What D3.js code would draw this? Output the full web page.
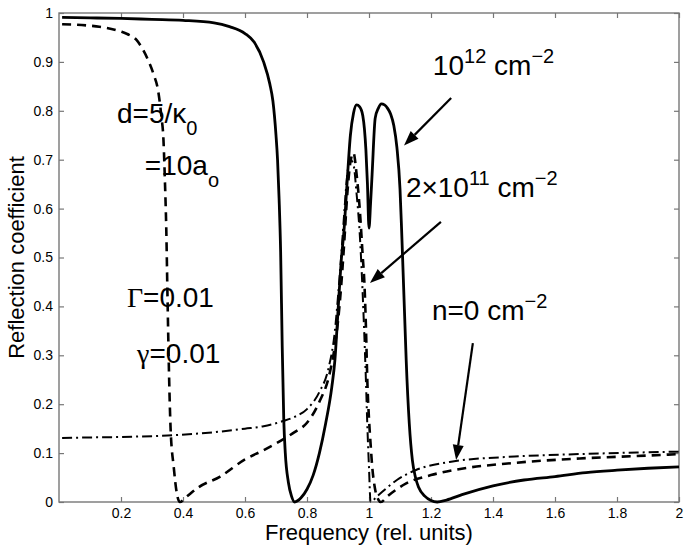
<!DOCTYPE html>
<html>
<head>
<meta charset="utf-8">
<script src="https://cdn.jsdelivr.net/npm/d3@7"></script>
<style>
  body { margin: 0; background: #fff; }
  text { font-family: "Liberation Sans", Arial, Helvetica, sans-serif; }
</style>
</head>
<body>
<svg id="chart"></svg>
<script>
// frequency / reflection
const solidX = [0.01,0.1,0.2,0.3,0.4,0.5,0.55,0.6,0.63,0.66,0.68,0.69,0.70,0.705,0.71,0.715,0.72,0.725,0.73,0.74,0.75,0.76,0.78,0.80,0.82,0.84,0.86,0.88,0.89,0.90,0.91,0.92,0.93,0.94,0.95,0.96,0.97,0.98,0.99,0.995,1.0,1.005,1.01,1.02,1.03,1.04,1.05,1.06,1.07,1.08,1.09,1.10,1.105,1.11,1.115,1.12,1.13,1.14,1.15,1.16,1.18,1.20,1.22,1.25,1.3,1.4,1.5,1.6,1.7,1.8,1.9,2.0];
const solidY = [0.991,0.990,0.989,0.987,0.985,0.980,0.972,0.958,0.940,0.900,0.855,0.820,0.750,0.700,0.620,0.510,0.320,0.170,0.100,0.040,0.012,0.000,0.008,0.026,0.055,0.100,0.160,0.235,0.290,0.390,0.490,0.560,0.660,0.750,0.795,0.812,0.808,0.790,0.720,0.650,0.560,0.610,0.670,0.785,0.805,0.814,0.812,0.805,0.793,0.770,0.725,0.640,0.560,0.470,0.380,0.290,0.160,0.085,0.050,0.030,0.012,0.003,0.000,0.004,0.015,0.033,0.045,0.052,0.060,0.065,0.069,0.072];

const dashX = [0.01,0.1,0.13,0.2,0.22,0.25,0.27,0.29,0.305,0.32,0.33,0.337,0.342,0.346,0.35,0.355,0.36,0.37,0.38,0.39,0.41,0.45,0.52,0.60,0.66,0.72,0.76,0.80,0.84,0.87,0.89,0.90,0.91,0.92,0.93,0.94,0.95,0.96,0.97,0.98,0.985,0.99,0.995,1.0,1.005,1.01,1.02,1.03,1.038,1.06,1.12,1.2,1.28,1.47,1.68,1.9,2.0];
const dashY = [0.977,0.974,0.972,0.962,0.957,0.945,0.926,0.900,0.875,0.840,0.790,0.740,0.650,0.560,0.420,0.260,0.150,0.072,0.018,0.000,0.010,0.030,0.052,0.087,0.106,0.127,0.143,0.162,0.205,0.255,0.320,0.370,0.440,0.530,0.630,0.695,0.714,0.670,0.600,0.500,0.450,0.360,0.240,0.170,0.120,0.075,0.025,0.005,0.000,0.012,0.038,0.055,0.066,0.080,0.089,0.095,0.098];

const dotX = [0.01,0.1,0.2,0.35,0.45,0.52,0.60,0.66,0.72,0.76,0.80,0.84,0.87,0.89,0.90,0.91,0.92,0.93,0.94,0.95,0.96,0.97,0.98,0.99,0.995,1.0,1.005,1.025,1.09,1.15,1.26,1.47,1.68,2.0];
const dotY = [0.131,0.132,0.133,0.136,0.140,0.144,0.150,0.155,0.165,0.174,0.190,0.225,0.275,0.350,0.420,0.500,0.590,0.670,0.700,0.690,0.630,0.550,0.420,0.250,0.150,0.070,0.000,0.011,0.045,0.065,0.082,0.093,0.098,0.103];

const xTicks = [0.2,0.4,0.6,0.8,1,1.2,1.4,1.6,1.8,2];
const yTicks = [0,0.1,0.2,0.3,0.4,0.5,0.6,0.7,0.8,0.9,1];

const W = 688, H = 550;
const margin = {left: 59, right: 9, top: 13, bottom: 48};
const svg = d3.select("#chart").attr("width", W).attr("height", H);

const x = d3.scaleLinear().domain([0, 2]).range([margin.left, W - margin.right]);
const y = d3.scaleLinear().domain([0, 1]).range([H - margin.bottom, margin.top]);
const fmt = d3.format("~g");
const axisColor = "#777";

// axes with inward ticks on all four sides
function styleAxis(g) {
  g.select(".domain").remove();
  g.selectAll(".tick line").attr("stroke", axisColor).attr("stroke-width", 1.2);
  g.selectAll(".tick text").attr("font-size", 14).attr("fill", "#000")
    .attr("font-family", "Liberation Sans, Arial, sans-serif");
}
svg.append("g").attr("transform", `translate(0,${y(0)})`)
  .call(d3.axisBottom(x).tickValues(xTicks).tickFormat(fmt).tickSizeInner(-5).tickPadding(6))
  .call(styleAxis);
svg.append("g").attr("transform", `translate(0,${y(1)})`)
  .call(d3.axisTop(x).tickValues(xTicks).tickFormat("").tickSizeInner(-5))
  .call(styleAxis);
svg.append("g").attr("transform", `translate(${x(0)},0)`)
  .call(d3.axisLeft(y).tickValues(yTicks).tickFormat(fmt).tickSizeInner(-5).tickPadding(6))
  .call(styleAxis);
svg.append("g").attr("transform", `translate(${x(2)},0)`)
  .call(d3.axisRight(y).tickValues(yTicks).tickFormat("").tickSizeInner(-5))
  .call(styleAxis);

svg.append("rect")
  .attr("x", x(0)).attr("y", y(1))
  .attr("width", x(2) - x(0)).attr("height", y(0) - y(1))
  .attr("fill", "none").attr("stroke", axisColor).attr("stroke-width", 1.4);

const line = d3.line().x(d => x(d[0])).y(d => y(d[1])).curve(d3.curveMonotoneX);

svg.append("path").datum(d3.zip(dotX, dotY)).attr("d", line)
  .attr("fill", "none").attr("stroke", "#000").attr("stroke-width", 2)
  .attr("stroke-dasharray", "10,4,2,4");
svg.append("path").datum(d3.zip(dashX, dashY)).attr("d", line)
  .attr("fill", "none").attr("stroke", "#000").attr("stroke-width", 2.6)
  .attr("stroke-dasharray", "9,6");
svg.append("path").datum(d3.zip(solidX, solidY)).attr("d", line)
  .attr("fill", "none").attr("stroke", "#000").attr("stroke-width", 2.8);

// axis labels
svg.append("text").attr("x", x(1)).attr("y", 540)
  .attr("text-anchor", "middle").attr("font-size", 22)
  .text("Frequency (rel. units)");
svg.append("text").attr("transform", `translate(24,${(y(0) + y(1)) / 2}) rotate(-90)`)
  .attr("text-anchor", "middle").attr("font-size", 22)
  .text("Reflection coefficient");

// annotations
const big = 28, small = 20;
function label(px, py, parts) {
  const t = svg.append("text").attr("x", x(px)).attr("y", y(py)).attr("font-size", big);
  parts.forEach(p => {
    const s = t.append("tspan").text(p.t);
    if (p.sup) s.attr("font-size", small).attr("dy", -12);
    if (p.sub) s.attr("font-size", small).attr("dy", 12);
    if (p.back) s.attr("dy", p.back);
    if (p.serif) s.attr("font-family", "Liberation Serif, Times New Roman, serif");
  });
}
label(1.206, 0.873, [{t: "10"}, {t: "12", sup: true}, {t: " cm", back: 12}, {t: "\u22122", sup: true}]);
label(1.119, 0.624, [{t: "2\u00d710"}, {t: "11", sup: true}, {t: " cm", back: 12}, {t: "\u22122", sup: true}]);
label(1.203, 0.372, [{t: "n=0 cm"}, {t: "\u22122", sup: true}]);
label(0.187, 0.775, [{t: "d=5/\u03ba"}, {t: "0", sub: true}]);
label(0.277, 0.669, [{t: "=10a"}, {t: "o", sub: true}]);
label(0.219, 0.399, [{t: "\u0393", serif: true}, {t: "=0.01"}]);
label(0.252, 0.284, [{t: "\u03b3", serif: true}, {t: "=0.01"}]);

// arrows
const arrows = [
  {x1: 1.265, y1: 0.826, x2: 1.113, y2: 0.729},
  {x1: 1.232, y1: 0.573, x2: 1.003, y2: 0.448},
  {x1: 1.335, y1: 0.325, x2: 1.281, y2: 0.086}
];
arrows.forEach(a => {
  const X1 = x(a.x1), Y1 = y(a.y1), X2 = x(a.x2), Y2 = y(a.y2);
  const ang = Math.atan2(Y2 - Y1, X2 - X1);
  const L = 15, Wd = 5.5;
  const bx = X2 - L * Math.cos(ang), by = Y2 - L * Math.sin(ang);
  svg.append("line").attr("x1", X1).attr("y1", Y1).attr("x2", bx).attr("y2", by)
    .attr("stroke", "#000").attr("stroke-width", 2.2);
  svg.append("path")
    .attr("d", `M${X2},${Y2}L${bx + Wd * Math.sin(ang)},${by - Wd * Math.cos(ang)}L${bx - Wd * Math.sin(ang)},${by + Wd * Math.cos(ang)}Z`)
    .attr("fill", "#000");
});
</script>
</body>
</html>
